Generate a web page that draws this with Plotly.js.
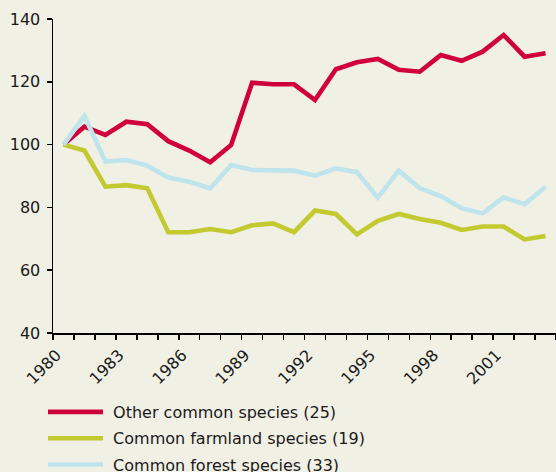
<!DOCTYPE html>
<html>
<head>
<meta charset="utf-8">
<script src="https://cdn.plot.ly/plotly-3.0.1.min.js"></script>
<style>
html,body{margin:0;padding:0;background:#f1f0e5;}
#chart{width:556px;height:472px;}
</style>
</head>
<body>
<div id="chart"></div>
<script>
var years = [1980,1981,1982,1983,1984,1985,1986,1987,1988,1989,1990,1991,1992,1993,1994,1995,1996,1997,1998,1999,2000,2001,2002,2003];
var otherCommon = [100,105.7,103.1,107.3,106.5,101.1,98.1,94.4,99.9,119.7,119.2,119.2,114.2,124.0,126.2,127.3,123.8,123.2,128.5,126.7,129.6,134.9,128.0,129.1];
var farmland = [100,98.1,86.6,87.1,86.1,72.1,72.1,73.1,72.1,74.3,74.9,72.1,79.0,77.9,71.4,75.7,77.9,76.3,75.1,72.8,73.9,73.9,69.8,70.9];
var forest = [100,109.1,94.6,95.1,93.3,89.5,88.2,86.1,93.5,91.9,91.8,91.7,90.1,92.4,91.2,83.1,91.7,86.1,83.6,79.7,78.1,83.2,81.0,86.6];
var seriesNames = ['Other common species (25)','Common farmland species (19)','Common forest species (33)'];
var tickYears = [1980,1983,1986,1989,1992,1995,1998,2001];
var yTicks = [40,60,80,100,120,140];

var colors = ['#d0003c','#c2ca2f','#bfe4ec'];
var seriesData = [otherCommon, farmland, forest];
var traces = seriesData.map(function(vals, i){
  return {
    x: years, y: vals, type: 'scatter', mode: 'lines',
    name: '\u00a0' + seriesNames[i], legendgroup: 'g'+i,
    line: {color: colors[i], width: 4.6, shape: 'linear'},
    hoverinfo: 'x+y'
  };
});

var font = 'Verdana, "DejaVu Sans", sans-serif';
var layout = {
  width: 556, height: 472,
  paper_bgcolor: '#f1f0e5', plot_bgcolor: '#f1f0e5',
  margin: {l: 53, r: 0, t: 19, b: 139, autoexpand: false},
  font: {family: font, size: 16, color: '#1a1a1a'},
  showlegend: true,
  legend: {
    orientation: 'v', xref: 'container', yref: 'container',
    x: 43/556, y: 1 - 395/472, xanchor: 'left', yanchor: 'top',
    bgcolor: 'rgba(0,0,0,0)', font: {family: font, size: 16, color: '#1a1a1a'},
    traceorder: 'grouped', tracegroupgap: 2.5, itemwidth: 55
  },
  xaxis: {
    type: 'linear', range: [1979.5, 2003.5], fixedrange: true,
    tickmode: 'array', tickvals: tickYears, ticktext: tickYears.map(String),
    ticks: '', tickangle: -45, showgrid: false, zeroline: false,
    showline: true, linecolor: '#000', linewidth: 1.5,
    tickfont: {family: font, size: 16, color: '#1a1a1a'},
    ticklabelshift: -7, ticklabelstandoff: 5,
    minor: {tickmode: 'linear', tick0: 1979.5, dtick: 1, ticks: 'outside', ticklen: 5, tickcolor: '#000', tickwidth: 1.5, showgrid: false}
  },
  yaxis: {
    range: [40, 140], fixedrange: true,
    tickmode: 'array', tickvals: yTicks,
    ticks: 'outside', ticklen: 5, tickcolor: '#000', tickwidth: 1.5,
    showgrid: false, zeroline: false,
    showline: true, linecolor: '#000', linewidth: 1.5,
    tickfont: {family: font, size: 16, color: '#1a1a1a'},
    ticklabelstandoff: 3
  }
};
Plotly.newPlot('chart', traces, layout, {displayModeBar: false, staticPlot: true});
</script>
</body>
</html>
